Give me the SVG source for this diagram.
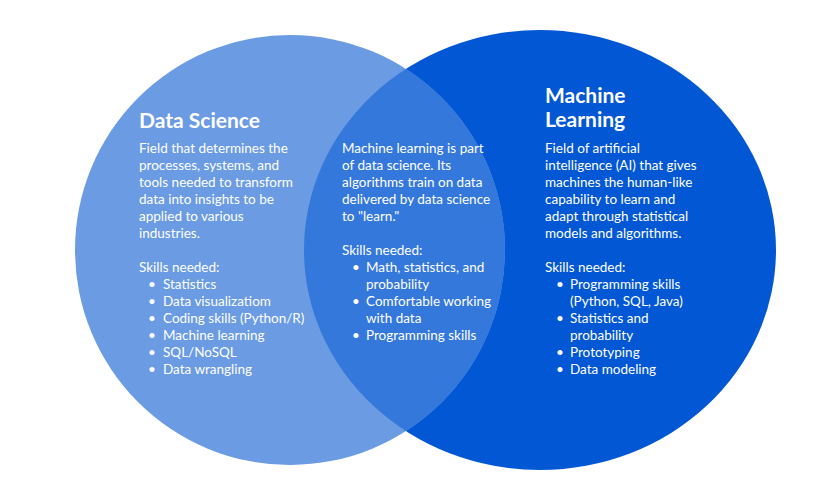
<svg xmlns="http://www.w3.org/2000/svg" width="840" height="480" viewBox="0 0 840 480">
<style>
text{font-family:Lato,"Noto Sans",sans-serif;fill:#fff;font-size:13.5px}
.t{font-weight:bold;font-size:21px}
</style>
<defs><clipPath id="cl"><ellipse cx="290" cy="250" rx="215" ry="215"/></clipPath></defs>
<rect width="840" height="480" fill="#fff"/>
<g id="ml"><ellipse cx="540" cy="250" rx="236" ry="220" fill="#0257d4"/></g>
<g id="ds"><ellipse cx="290" cy="250" rx="215" ry="215" fill="#6a9be3"/></g>
<g id="overlap"><ellipse cx="540" cy="250" rx="236" ry="220" fill="#3478dc" clip-path="url(#cl)"/></g>
<g id="connectors"/>
<g id="ds-text">
<text x="139" y="128" class="t">Data Science</text>
<text x="139" y="153">Field that determines the</text>
<text x="139" y="170">processes, systems, and</text>
<text x="139" y="187">tools needed to transform</text>
<text x="139" y="204">data into insights to be</text>
<text x="139" y="221">applied to various</text>
<text x="139" y="238">industries.</text>
<text x="139" y="272">Skills needed:</text>
<text x="148" y="289">•</text><text x="163" y="289">Statistics</text>
<text x="148" y="306">•</text><text x="163" y="306">Data visualizatiom</text>
<text x="148" y="323">•</text><text x="163" y="323">Coding skills (Python/R)</text>
<text x="148" y="340">•</text><text x="163" y="340">Machine learning</text>
<text x="148" y="357">•</text><text x="163" y="357">SQL/NoSQL</text>
<text x="148" y="374">•</text><text x="163" y="374">Data wrangling</text>
</g>
<g id="mid-text">
<text x="342" y="153">Machine learning is part</text>
<text x="342" y="170">of data science. Its</text>
<text x="342" y="187">algorithms train on data</text>
<text x="342" y="204">delivered by data science</text>
<text x="342" y="221">to "learn."</text>
<text x="342" y="255">Skills needed:</text>
<text x="352" y="272">•</text><text x="366" y="272">Math, statistics, and</text>
<text x="366" y="289">probability</text>
<text x="352" y="306">•</text><text x="366" y="306">Comfortable working</text>
<text x="366" y="323">with data</text>
<text x="352" y="340">•</text><text x="366" y="340">Programming skills</text>
</g>
<g id="ml-text">
<text x="545" y="103" class="t">Machine</text>
<text x="545" y="127" class="t">Learning</text>
<text x="545" y="153">Field of artificial</text>
<text x="545" y="170">intelligence (AI) that gives</text>
<text x="545" y="187">machines the human-like</text>
<text x="545" y="204">capability to learn and</text>
<text x="545" y="221">adapt through statistical</text>
<text x="545" y="238">models and algorithms.</text>
<text x="545" y="272">Skills needed:</text>
<text x="556" y="289">•</text><text x="570" y="289">Programming skills</text>
<text x="570" y="306">(Python, SQL, Java)</text>
<text x="556" y="323">•</text><text x="570" y="323">Statistics and</text>
<text x="570" y="340">probability</text>
<text x="556" y="357">•</text><text x="570" y="357">Prototyping</text>
<text x="556" y="374">•</text><text x="570" y="374">Data modeling</text>
</g>
</svg>
